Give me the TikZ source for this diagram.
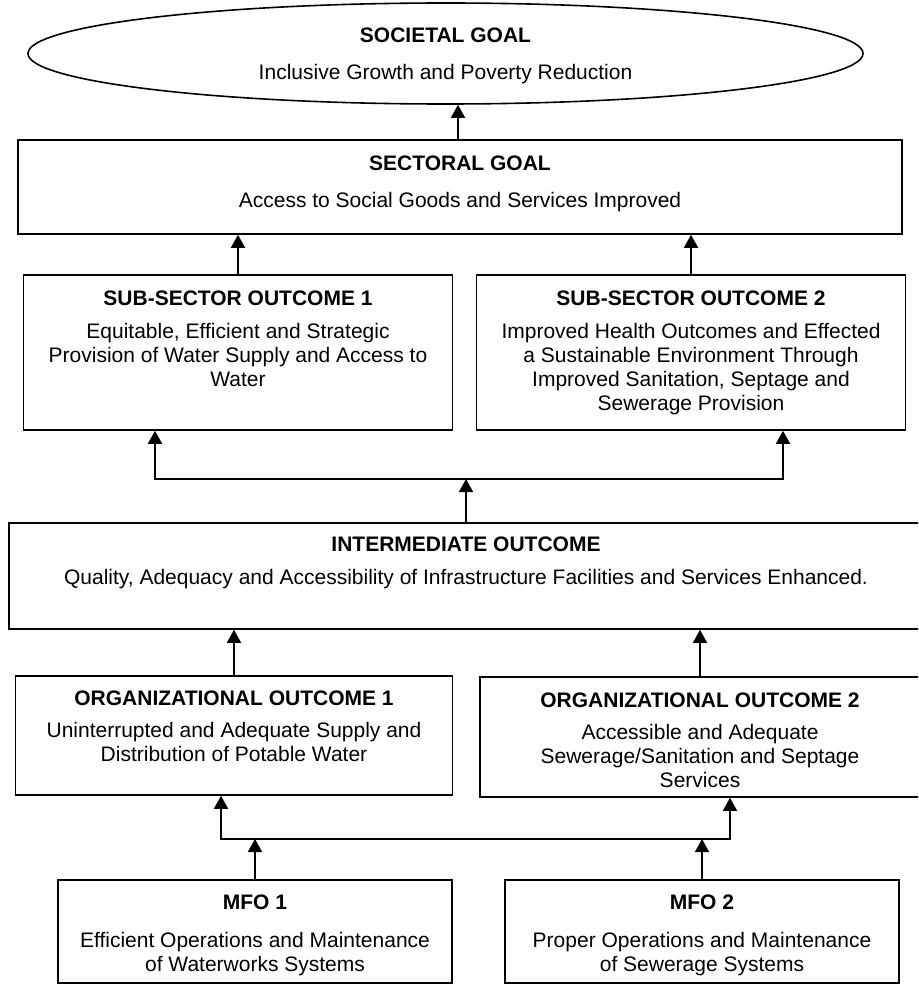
\documentclass[tikz,border=0pt]{standalone}
\usepackage{fontspec}
\setmainfont{Liberation Sans}
\usepackage{tikz}
\usetikzlibrary{arrows.meta,positioning,shapes.geometric}
\tikzset{>={Triangle[length=13pt,width=14pt]}}
\tikzset{box/.style={draw, rectangle, line width=1.6pt, inner sep=0pt},
         txt/.style={align=center, inner sep=0pt, font=\fontsize{21}{24}\selectfont}}

\begin{document}
\begin{tikzpicture}[x=1pt, y=-1pt, line width=1.6pt]
            \useasboundingbox (0,0) rectangle (918,984);
            \clip (0,0) rectangle (918,984);
            \node [box, ellipse, minimum width=835pt, minimum height=101pt] at (445.5,53.5) (SG) {};
            \node [txt, below=24.5pt of SG.north] (SGt) {\textbf{SOCIETAL GOAL}\\[13pt]Inclusive Growth and Poverty Reduction};
            \node [box, minimum width=884pt, minimum height=94pt] at (460,187) (SecG) {};
            \node [txt, below=15.5pt of SecG.north] (SecGt) {\textbf{SECTORAL GOAL}\\[13pt]Access to Social Goods and Services Improved};
            \node [box, minimum width=429pt, minimum height=155pt] at (238,352.5) (SO1) {};
            \node [txt, below=15.5pt of SO1.north] (SO1t) {\textbf{SUB-SECTOR OUTCOME 1}\\[9pt]Equitable, Efficient and Strategic\\Provision of Water Supply and Access to\\Water};
            \node [box, minimum width=429pt, minimum height=155pt] at (691,352.5) (SO2) {};
            \node [txt, below=15.5pt of SO2.north] (SO2t) {\textbf{SUB-SECTOR OUTCOME 2}\\[9pt]Improved Health Outcomes and Effected\\a Sustainable Environment Through\\Improved Sanitation, Septage and\\Sewerage Provision};
            \node [box, minimum width=914pt, minimum height=106pt] at (466,576) (IO) {};
            \node [txt, below=13.5pt of IO.north] (IOt) {\textbf{INTERMEDIATE OUTCOME}\\[9pt]Quality, Adequacy and Accessibility of Infrastructure Facilities and Services Enhanced.};
            \node [box, minimum width=437pt, minimum height=119pt] at (234,735.5) (OO1) {};
            \node [txt, below=14.5pt of OO1.north] (OO1t) {\textbf{ORGANIZATIONAL OUTCOME 1}\\[8pt]Uninterrupted and Adequate Supply and\\Distribution of Potable Water};
            \node [box, minimum width=440pt, minimum height=120pt] at (700,737) (OO2) {};
            \node [txt, below=15.5pt of OO2.north] (OO2t) {\textbf{ORGANIZATIONAL OUTCOME 2}\\[8pt]Accessible and Adequate\\Sewerage/Sanitation and Septage\\Services};
            \node [box, minimum width=394pt, minimum height=103pt] at (255,931.5) (MFO1) {};
            \node [txt, below=14.5pt of MFO1.north] (MFO1t) {\textbf{MFO 1}\\[14pt]Efficient Operations and Maintenance\\of Waterworks Systems};
            \node [box, minimum width=394pt, minimum height=103pt] at (702,931.5) (MFO2) {};
            \node [txt, below=14.5pt of MFO2.north] (MFO2t) {\textbf{MFO 2}\\[14pt]Proper Operations and Maintenance\\of Sewerage Systems};
            \coordinate (J1l) at (155,479);
            \coordinate (J1r) at (783,479);
            \coordinate (J2l) at (221,839);
            \coordinate (J2r) at (730,839);
            \draw[->] ([xshift=-2pt]SecG.north) -- ([xshift=-2pt]SecG.north |- SG.south);
            \draw[->] (SO1.north) -- (SO1.north |- SecG.south);
            \draw[->] (SO2.north) -- (SO2.north |- SecG.south);
            \draw[<->] (J1l |- SO1.south) -- (J1l) -- (J1r) -- (J1r |- SO2.south);
            \draw[->] (IO.north) -- (IO.north |- J1l);
            \draw[->] (OO1.north) -- (OO1.north |- IO.south);
            \draw[->] (OO2.north) -- (OO2.north |- IO.south);
            \draw[<->] (J2l |- OO1.south) -- (J2l) -- (J2r) -- (J2r |- OO2.south);
            \draw[->] (MFO1.north) -- (MFO1.north |- J2l);
            \draw[->] (MFO2.north) -- (MFO2.north |- J2l);
\end{tikzpicture}
\end{document}
